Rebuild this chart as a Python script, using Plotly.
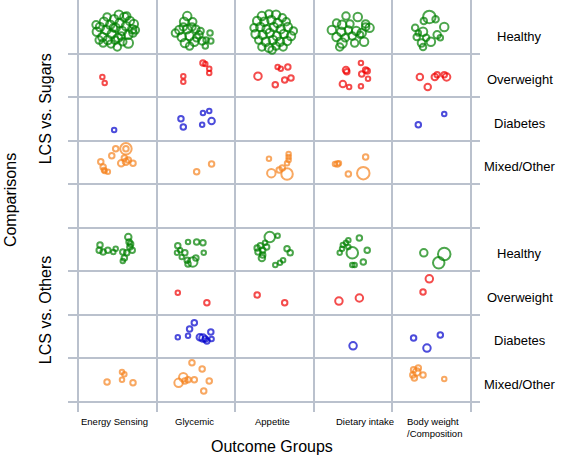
import plotly.graph_objects as go

outcomes = ["Energy Sensing", "Glycemic", "Appetite", "Dietary intake", "Body weight<br>/Composition"]
populations = ["Healthy", "Overweight", "Diabetes", "Mixed/Other"]
comparisons = ["LCS vs. Sugars", "LCS vs. Others"]
row_labels = populations + populations
colors = {"Healthy": "#008000", "Overweight": "#f00000", "Diabetes": "#0000cc", "Mixed/Other": "#f5831f"}

# (x, y, size) — x: outcome column (0..5), y: comparison/population row (0..9)
healthy_pts = [
    # LCS vs Sugars / Energy Sensing
    (0.24, 8.51, 9), (0.28, 8.62, 9), (0.31, 8.39, 9), (0.33, 8.74, 9), (0.36, 8.55, 9),
    (0.38, 8.32, 9), (0.41, 8.67, 9), (0.43, 8.46, 9), (0.46, 8.80, 9), (0.48, 8.60, 9),
    (0.51, 8.37, 9), (0.53, 8.71, 9), (0.56, 8.53, 9), (0.59, 8.85, 9), (0.61, 8.64, 9),
    (0.64, 8.44, 9), (0.66, 8.76, 9), (0.69, 8.57, 9), (0.71, 8.69, 9), (0.32, 8.25, 8),
    (0.42, 8.23, 8), (0.50, 8.16, 8), (0.57, 8.28, 8), (0.64, 8.25, 10), (0.37, 8.85, 8),
    (0.52, 8.90, 9), (0.62, 8.87, 8), (0.70, 8.48, 8), (0.27, 8.32, 8), (0.45, 8.60, 8),
    (0.55, 8.41, 8), (0.73, 8.55, 8), (0.23, 8.67, 8), (0.47, 8.32, 8),
    # Glycemic
    (1.39, 8.87, 9), (1.35, 8.74, 9), (1.46, 8.74, 8), (1.29, 8.55, 9), (1.39, 8.57, 9),
    (1.50, 8.57, 8), (1.32, 8.39, 9), (1.42, 8.41, 9), (1.54, 8.44, 8), (1.36, 8.25, 9),
    (1.48, 8.28, 9), (1.58, 8.30, 8), (1.42, 8.18, 8), (1.24, 8.48, 8), (1.45, 8.62, 8),
    (1.34, 8.62, 8), (1.51, 8.37, 8), (1.68, 8.48, 6), (1.63, 8.32, 6), (1.69, 8.30, 6),
    (1.62, 8.18, 6), (1.56, 8.53, 7),
    # Appetite
    (2.34, 8.87, 9), (2.43, 8.92, 8), (2.52, 8.90, 9), (2.60, 8.83, 8), (2.28, 8.76, 9),
    (2.37, 8.74, 9), (2.46, 8.78, 9), (2.54, 8.71, 9), (2.65, 8.74, 8), (2.24, 8.60, 8),
    (2.32, 8.62, 9), (2.40, 8.57, 9), (2.49, 8.62, 9), (2.58, 8.57, 9), (2.67, 8.62, 9),
    (2.74, 8.53, 8), (2.26, 8.46, 9), (2.35, 8.44, 9), (2.44, 8.48, 9), (2.53, 8.41, 9),
    (2.62, 8.46, 9), (2.71, 8.41, 9), (2.30, 8.32, 8), (2.39, 8.28, 9), (2.48, 8.32, 9),
    (2.57, 8.28, 9), (2.66, 8.30, 9), (2.34, 8.16, 8), (2.43, 8.14, 9), (2.52, 8.18, 8),
    (2.61, 8.16, 8), (2.47, 8.09, 8),
    # Dietary intake
    (3.41, 8.87, 8), (3.56, 8.85, 9), (3.29, 8.71, 8), (3.36, 8.67, 9), (3.46, 8.69, 8),
    (3.66, 8.69, 8), (3.71, 8.60, 9), (3.23, 8.55, 9), (3.35, 8.51, 9), (3.44, 8.55, 8),
    (3.54, 8.53, 9), (3.61, 8.48, 9), (3.29, 8.39, 9), (3.40, 8.37, 8), (3.49, 8.41, 8),
    (3.66, 8.62, 8), (3.36, 8.25, 10), (3.52, 8.25, 8), (3.64, 8.28, 9), (3.33, 8.16, 8),
    (3.59, 8.44, 7),
    # Body weight
    (4.47, 8.85, 13), (4.66, 8.62, 9), (4.39, 8.51, 9), (4.57, 8.44, 8), (4.29, 8.60, 7),
    (4.31, 8.39, 7), (4.37, 8.25, 8), (4.49, 8.28, 9), (4.39, 8.16, 7), (4.55, 8.80, 7),
    (4.40, 8.76, 7), (4.33, 8.48, 6), (4.43, 8.37, 7), (4.61, 8.37, 6),
    # LCS vs Others / Energy Sensing
    (0.28, 3.61, 6), (0.27, 3.49, 6), (0.32, 3.45, 6), (0.38, 3.49, 6), (0.45, 3.45, 5),
    (0.48, 3.52, 5), (0.57, 3.45, 6), (0.64, 3.79, 7), (0.67, 3.63, 6), (0.69, 3.49, 6),
    (0.65, 3.68, 6), (0.62, 3.43, 6), (0.59, 3.31, 6), (0.57, 3.24, 5), (0.66, 3.56, 6),
    # Glycemic
    (1.27, 3.59, 6), (1.40, 3.68, 5), (1.51, 3.68, 6), (1.59, 3.66, 6), (1.26, 3.43, 5),
    (1.30, 3.49, 5), (1.36, 3.43, 6), (1.39, 3.26, 6), (1.46, 3.22, 10), (1.50, 3.31, 6),
    (1.60, 3.43, 5), (1.32, 3.33, 5), (1.40, 3.17, 6),
    # Appetite
    (2.44, 3.79, 11), (2.54, 3.82, 5), (2.28, 3.54, 6), (2.32, 3.59, 6), (2.35, 3.49, 6),
    (2.29, 3.45, 6), (2.35, 3.38, 6), (2.40, 3.56, 6), (2.34, 3.31, 7), (2.66, 3.52, 6),
    (2.70, 3.43, 6), (2.61, 3.26, 5), (2.57, 3.20, 5), (2.51, 3.15, 5), (2.38, 3.66, 5),
    # Dietary intake
    (3.49, 3.43, 12), (3.44, 3.72, 5), (3.58, 3.77, 6), (3.37, 3.61, 5), (3.33, 3.43, 5),
    (3.36, 3.52, 5), (3.68, 3.49, 6), (3.63, 3.22, 6), (3.49, 3.15, 5), (3.52, 3.15, 5),
    (3.44, 3.56, 5), (3.41, 3.66, 5),
    # Body weight
    (4.40, 3.43, 8), (4.66, 3.40, 13), (4.59, 3.20, 12),
]

overweight_pts = [
    (0.31, 7.47, 5), (0.34, 7.33, 5),
    (1.34, 7.49, 5), (1.34, 7.36, 5), (1.59, 7.79, 6), (1.62, 7.77, 5), (1.67, 7.66, 5), (1.67, 7.56, 5),
    (2.29, 7.49, 8), (2.54, 7.70, 5), (2.58, 7.66, 5), (2.67, 7.70, 6), (2.71, 7.45, 6), (2.63, 7.40, 6), (2.51, 7.29, 6),
    (3.41, 7.63, 7), (3.42, 7.59, 6), (3.60, 7.79, 5), (3.68, 7.61, 6), (3.66, 7.63, 6), (3.61, 7.54, 6),
    (3.69, 7.43, 5), (3.37, 7.31, 7), (3.45, 7.24, 5), (3.60, 7.26, 5),
    (4.35, 7.47, 7), (4.45, 7.24, 7), (4.54, 7.47, 7), (4.57, 7.52, 6), (4.66, 7.52, 6), (4.69, 7.47, 8),
    (1.27, 2.51, 5), (1.64, 2.28, 6),
    (2.28, 2.46, 6), (2.63, 2.28, 6),
    (3.32, 2.32, 8), (3.58, 2.39, 8),
    (4.47, 2.83, 8), (4.39, 2.53, 6),
]

diabetes_pts = [
    (0.46, 6.25, 5),
    (1.31, 6.51, 6), (1.34, 6.32, 6), (1.59, 6.64, 5), (1.67, 6.69, 5), (1.70, 6.46, 7), (1.58, 6.37, 5),
    (4.33, 6.37, 6), (4.66, 6.62, 5),
    (1.27, 1.49, 5), (1.40, 1.52, 5), (1.42, 1.68, 6), (1.48, 1.82, 6), (1.55, 1.49, 7),
    (1.59, 1.47, 8), (1.64, 1.40, 6), (1.69, 1.61, 6), (1.70, 1.45, 5), (1.62, 1.45, 6),
    (3.50, 1.29, 8),
    (4.27, 1.47, 6), (4.44, 1.24, 8), (4.61, 1.54, 6),
]

mixed_pts = [
    (0.29, 5.52, 6), (0.32, 5.40, 6), (0.34, 5.31, 5), (0.38, 5.29, 5), (0.33, 5.33, 5),
    (0.43, 5.66, 6), (0.48, 5.82, 6), (0.61, 5.82, 12), (0.61, 5.82, 6), (0.55, 5.49, 7),
    (0.61, 5.52, 7), (0.70, 5.49, 6), (0.64, 5.56, 6), (0.59, 5.61, 6),
    (1.51, 5.29, 6), (1.70, 5.47, 6),
    (2.43, 5.59, 5), (2.46, 5.26, 9), (2.66, 5.24, 12), (2.60, 5.38, 6), (2.56, 5.33, 6),
    (2.68, 5.63, 5), (2.68, 5.70, 5), (2.68, 5.56, 5), (2.66, 5.49, 5),
    (3.30, 5.47, 6), (3.27, 5.47, 5), (3.32, 5.49, 5), (3.44, 5.24, 6), (3.66, 5.63, 6), (3.63, 5.26, 13),
    (0.37, 0.46, 6), (0.56, 0.69, 5), (0.59, 0.64, 5), (0.56, 0.51, 5), (0.70, 0.44, 6),
    (1.45, 0.90, 6), (1.58, 0.76, 6), (1.34, 0.57, 9), (1.28, 0.44, 9), (1.40, 0.51, 6),
    (1.48, 0.51, 6), (1.67, 0.48, 6), (1.60, 0.25, 6), (1.36, 0.48, 6),
    (4.27, 0.74, 6), (4.31, 0.69, 8), (4.26, 0.62, 6), (4.28, 0.55, 6), (4.39, 0.62, 6),
    (4.66, 0.53, 5), (4.33, 0.78, 6),
]

groups = {"Healthy": healthy_pts, "Overweight": overweight_pts,
          "Diabetes": diabetes_pts, "Mixed/Other": mixed_pts}

FONT = "Liberation Sans, Arial, Helvetica, sans-serif"
X0, X1 = -0.127, 5.115
Y0, Y1 = -0.23, 9.24


def xp(v):
    return (v - X0) / (X1 - X0)


def yp(v):
    return (v - Y0) / (Y1 - Y0)


fig = go.Figure()
for name, pts in groups.items():
    fig.add_trace(go.Scatter(
        x=[p[0] for p in pts], y=[p[1] for p in pts], mode="markers", name=name,
        marker=dict(symbol="circle-open", color=colors[name],
                    size=[p[2] - 0.5 for p in pts], line=dict(width=2)),
        showlegend=False, cliponaxis=False, hoverinfo="skip"))

grid = "#bac1cd"
fig.update_xaxes(range=[X0, X1], tickvals=[0, 1, 2, 3, 4, 5], showticklabels=False,
                 showgrid=True, gridcolor=grid, gridwidth=2, zeroline=False, ticks="", showline=False)
fig.update_yaxes(range=[Y0, Y1], tickvals=[0, 1, 2, 3, 4, 5, 6, 7, 8], showticklabels=False,
                 showgrid=True, gridcolor=grid, gridwidth=2, zeroline=False, ticks="", showline=False)

f_small = dict(size=9.5, color="black", family=FONT)
f_mid = dict(size=13, color="black", family=FONT)
f_big = dict(size=16, color="black", family=FONT)

ann = []
label_x = [0.46, 1.48, 2.47, 3.65, 4.16]
for lab, xx in zip(outcomes, label_x):
    left = "Body" in lab
    ann.append(dict(x=xp(xx), y=yp(-0.27), xref="paper", yref="paper", text=lab, showarrow=False,
                    xanchor="left" if left else "center", yanchor="top", align="left", font=f_small))
row_centers = [8.5, 7.5, 6.5, 5.5, 3.5, 2.5, 1.5, 0.5]
for lab, yy in zip(row_labels, row_centers):
    ann.append(dict(x=xp(5.62), y=yp(yy - 0.09), xref="paper", yref="paper", text=lab, showarrow=False,
                    xanchor="center", yanchor="middle", font=f_mid))
ann.append(dict(x=xp(-0.42), y=yp(6.75), xref="paper", yref="paper", text=comparisons[0], textangle=-90,
                showarrow=False, xanchor="center", yanchor="middle", font=f_big))
ann.append(dict(x=xp(-0.42), y=yp(2.11), xref="paper", yref="paper", text=comparisons[1], textangle=-90,
                showarrow=False, xanchor="center", yanchor="middle", font=f_big))
ann.append(dict(x=xp(-0.865), y=yp(4.64), xref="paper", yref="paper", text="Comparisons", textangle=-90,
                showarrow=False, xanchor="center", yanchor="middle", font=f_big))
ann.append(dict(x=xp(2.47), y=yp(-1.03), xref="paper", yref="paper", text="Outcome Groups",
                showarrow=False, xanchor="center", yanchor="middle", font=f_big))

fig.update_layout(width=567, height=457, margin=dict(l=68, r=87, t=0, b=45),
                  plot_bgcolor="white", paper_bgcolor="white", annotations=ann,
                  font=dict(family=FONT))
fig.write_html("out.html", config={"displayModeBar": False},
               post_script="document.body.style.margin='0px';")
